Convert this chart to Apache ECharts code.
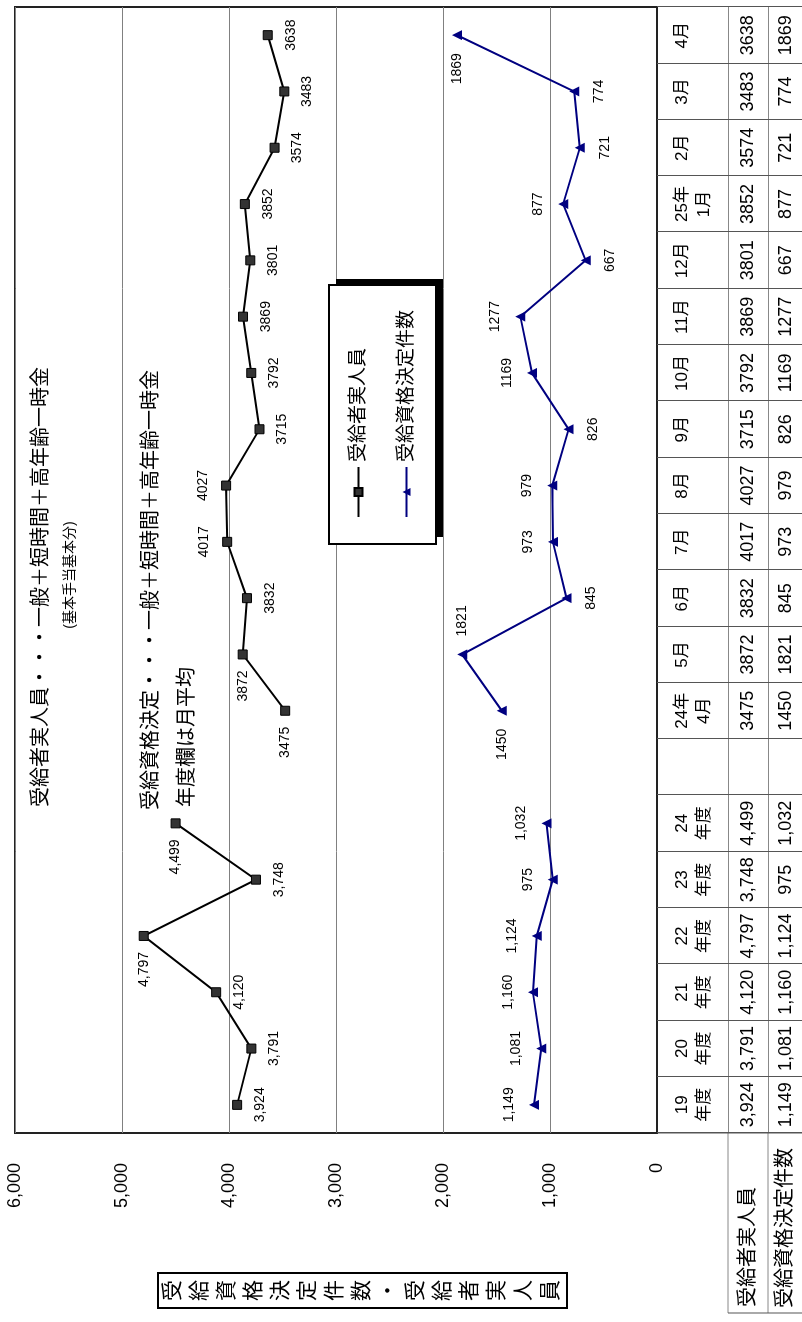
<!DOCTYPE html>
<html>
<head>
<meta charset="utf-8">
<script src="https://cdn.jsdelivr.net/npm/echarts@6/dist/echarts.min.js"></script>
<style>
html,body{margin:0;padding:0;background:#fff;overflow:hidden;width:802px;height:1322px;}
#wrap{position:absolute;left:0;top:0;width:1322px;height:802px;transform-origin:0 0;transform:translate(0px,1322px) rotate(-90deg);}
#chart{width:1322px;height:802px;}
</style>
</head>
<body>
<div id="wrap"><div id="chart"></div></div>
<script>
// ---- data ----
const categories = ['19\n年度','20\n年度','21\n年度','22\n年度','23\n年度','24\n年度','','24年\n4月','5月','6月','7月','8月','9月','10月','11月','12月','25年\n1月','2月','3月','4月'];
const recipients = [3924,3791,4120,4797,3748,4499,null,3475,3872,3832,4017,4027,3715,3792,3869,3801,3852,3574,3483,3638];
const decisions  = [1149,1081,1160,1124,975,1032,null,1450,1821,845,973,979,826,1169,1277,667,877,721,774,1869];
const seriesNames = ['受給者実人員','受給資格決定件数'];
const titleLines = ['受給者実人員・・・一般＋短時間＋高年齢一時金','(基本手当基本分)','受給資格決定・・・一般＋短時間＋高年齢一時金','年度欄は月平均'];
const axisTitle = '受給資格決定件数・受給者実人員';
const annualCount = 6;

// ---- label placement (style only) ----
const recipLabelPos = ['bottom','bottom','bottom','left','bottom','left',null,'left','left','bottom','top','top','bottom','bottom','bottom','bottom','bottom','bottom','bottom','bottom'];
const decisLabelPos = ['top','top','top','top','top','top',null,'left','right','bottom','top','top','bottom','top','top','bottom','top','bottom','bottom','left'];

const FONT = "'Liberation Sans','Noto Sans CJK JP',sans-serif";
function fmt(v, i){
  if (v === null || v === undefined) return '';
  return i < annualCount ? v.toLocaleString('en-US') : String(v);
}
function build(values, pos){
  return values.map((v,i) => v === null ? null : {value: v, label: {position: pos[i]}});
}

const chart = echarts.init(document.getElementById('chart'), null, {width:1322, height:802});
const option = {
  animation: false,
  textStyle: {fontFamily: FONT, color:'#000'},
  grid: {left:189, right:7, top:15, bottom:145, show:true, borderColor:'#222', borderWidth:2, backgroundColor:'#fff'},
  legend: {
    orient:'vertical', left:778, top:329, z:10,
    itemWidth:50, itemHeight:10, itemGap:29,
    padding:[20,25,20,26],
    backgroundColor:'#fff', borderColor:'#000', borderWidth:2,
    textStyle:{fontSize:19, color:'#000', fontFamily:FONT},
    data: seriesNames
  },
  xAxis: [
    {
      type:'category', data: categories, position:'bottom', boundaryGap:true,
      axisLine:{show:true, lineStyle:{color:'#222', width:2}},
      axisTick:{show:true, interval:0, length:145, lineStyle:{color:'#555', width:1}},
      axisLabel:{interval:0, fontSize:17, lineHeight:22, margin:14, color:'#000', fontFamily:FONT},
      splitLine:{show:false}
    },
    {
      type:'category', data: categories, position:'bottom', offset:71, boundaryGap:true,
      axisLine:{show:true, lineStyle:{color:'#888', width:1}},
      axisTick:{show:false},
      axisLabel:{interval:0, fontSize:18, margin:11, color:'#000', fontFamily:FONT,
        formatter:(v,i)=>fmt(recipients[i], i)},
      splitLine:{show:false}
    },
    {
      type:'category', data: categories, position:'bottom', offset:111, boundaryGap:true,
      axisLine:{show:true, lineStyle:{color:'#888', width:1}},
      axisTick:{show:false},
      axisLabel:{interval:0, fontSize:18, margin:9, color:'#000', fontFamily:FONT,
        formatter:(v,i)=>fmt(decisions[i], i)},
      splitLine:{show:false}
    }
  ],
  yAxis: {
    type:'value', min:0, max:6000, interval:1000,
    axisLine:{show:false}, axisTick:{show:false},
    axisLabel:{fontSize:18, margin:30, color:'#000', fontFamily:FONT, formatter:v=>v.toLocaleString('en-US')},
    splitLine:{show:true, lineStyle:{color:'#808080', width:1}}
  },
  series: [
    {
      name: seriesNames[0], type:'line', xAxisIndex:0, connectNulls:false,
      data: build(recipients, recipLabelPos),
      symbol:'rect', symbolSize:9,
      lineStyle:{color:'#000', width:2},
      itemStyle:{color:'#333', borderColor:'#000', borderWidth:1},
      label:{show:true, fontSize:14, color:'#000', distance:11, fontFamily:FONT,
        formatter:p=>fmt(p.value, p.dataIndex)}
    },
    {
      name: seriesNames[1], type:'line', xAxisIndex:0, connectNulls:false,
      data: build(decisions, decisLabelPos),
      symbol:'triangle', symbolSize:10,
      lineStyle:{color:'#000080', width:2},
      itemStyle:{color:'#000080'},
      label:{show:true, fontSize:14, color:'#000', distance:13, fontFamily:FONT,
        formatter:p=>fmt(p.value, p.dataIndex)}
    }
  ],
  graphic: [
    {type:'text', x:515, y:41, style:{text:titleLines[0], font:"20px "+FONT, fill:'#000', textAlign:'left', textVerticalAlign:'middle', align:'left', verticalAlign:'middle'}},
    {type:'text', x:747, y:70, style:{text:titleLines[1], font:"14px "+FONT, fill:'#000', textAlign:'center', textVerticalAlign:'middle', align:'center', verticalAlign:'middle'}},
    {type:'text', x:512, y:151, style:{text:titleLines[2], font:"20px "+FONT, fill:'#000', textAlign:'left', textVerticalAlign:'middle', align:'left', verticalAlign:'middle'}},
    {type:'text', x:515, y:187, style:{text:titleLines[3], font:"20px "+FONT, fill:'#000', textAlign:'left', textVerticalAlign:'middle', align:'left', verticalAlign:'middle'}},
    // legend drop shadow
    {type:'rect', z:5, shape:{x:785, y:336, width:258, height:107}, style:{fill:'#000'}},
    // axis title box
    {type:'rect', shape:{x:14, y:158, width:35, height:409}, style:{fill:'#fff', stroke:'#000', lineWidth:2}},
    {type:'text', x:31.5, y:362.5, style:{text:axisTitle.split('').join('\n'), font:"21px "+FONT, lineHeight:27, fill:'#000', textAlign:'center', textVerticalAlign:'middle', align:'center', verticalAlign:'middle'}},
    // table row headers
    {type:'text', x:15, y:748, style:{text:seriesNames[0], font:"20px "+FONT, fill:'#000', textAlign:'left', textVerticalAlign:'middle', align:'left', verticalAlign:'middle'}},
    {type:'text', x:14, y:785, style:{text:seriesNames[1], font:"20px "+FONT, fill:'#000', textAlign:'left', textVerticalAlign:'middle', align:'left', verticalAlign:'middle'}},
    // table borders for row header cells
    {type:'line', shape:{x1:9, y1:728, x2:189, y2:728}, style:{stroke:'#888', lineWidth:1}},
    {type:'line', shape:{x1:9, y1:768, x2:189, y2:768}, style:{stroke:'#888', lineWidth:1}},
    {type:'line', shape:{x1:9, y1:728, x2:9, y2:802}, style:{stroke:'#555', lineWidth:1}},
    {type:'line', shape:{x1:189, y1:657, x2:189, y2:802}, style:{stroke:'#555', lineWidth:1}}
  ]
};
chart.setOption(option);
</script>
</body>
</html>
